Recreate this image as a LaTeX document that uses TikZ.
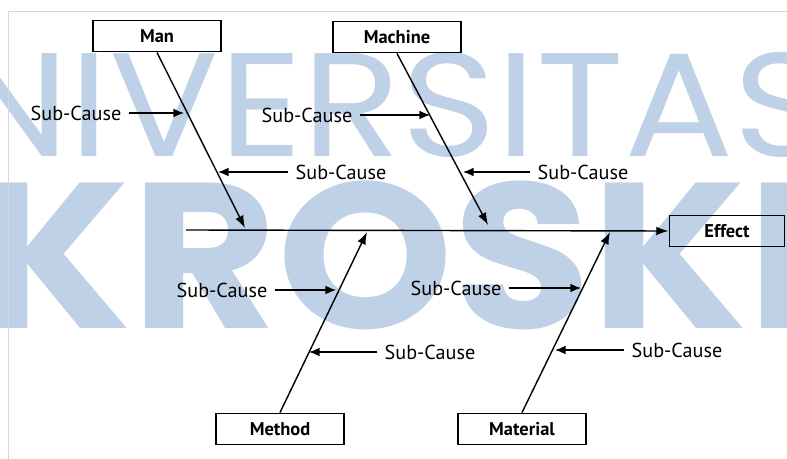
\documentclass[tikz,border=0pt]{standalone}
\usepackage{fontspec}
\setmainfont{PT Sans}
\newfontfamily\wmfont{Poppins}
\usepackage{tikz}
\usetikzlibrary{arrows.meta}

\definecolor{wmblue}{RGB}{191,209,230}
\definecolor{framegray}{RGB}{215,215,215}

\tikzset{
  catbox/.style={draw, line width=1.1pt, minimum width=2.56cm, minimum height=0.62cm, font=\bfseries\fontsize{10.5}{12}\selectfont},
  subcause/.style={font=\fontsize{11.5}{13}\selectfont, inner sep=4pt},
  bone/.style={line width=0.8pt, -{Latex[length=7pt,width=5pt]}},
  subarrow/.style={line width=0.8pt, -{Latex[length=6pt,width=5pt]}}
}

\begin{document}
\begin{tikzpicture}[x=0.02cm, y=-0.02cm]
        \useasboundingbox (0,0) rectangle (787,459);
        \begin{scope}
            \clip (0,0) rectangle (787,459);
            \node[anchor=base west, inner sep=0, xscale=1.1, text=wmblue, font=\wmfont\fontsize{84}{84}\selectfont] (wmtop) at (-45,157) {NIVERSITAS};
            \node[anchor=base west, inner sep=0, xscale=1.08, text=wmblue, font=\wmfont\bfseries\fontsize{118}{118}\selectfont] (wmbot) at (-25,328) {KROSKI};
        \end{scope}
        \draw[framegray, line width=0.5pt] (8,459) -- (8,11) -- (787,11);

        % categories
        \node[catbox] (man) at (157,36) {Man};
        \node[catbox] (machine) at (397,37) {Machine};
        \node[catbox] (method) at (280,429) {Method};
        \node[catbox] (material) at (522,429) {Material};
        \node[catbox, minimum width=2.3cm] (effect) at (727,231) {Effect};

        % spine
        \coordinate (spine) at (186,230);
        \draw[bone] (spine) -- (effect.west);

        % bones
        \coordinate (mantip) at (245,228);
        \coordinate (machinetip) at (488,225);
        \coordinate (methodtip) at (367,232);
        \coordinate (materialtip) at (610,232);
        \draw[bone] (man.south) -- (mantip);
        \draw[bone] (machine.south) -- (machinetip);
        \draw[bone] (method.north) -- (methodtip);
        \draw[bone] (material.north) -- (materialtip);

        % sub-causes
        \node[subcause] (man1) at (76,113) {Sub-Cause};
        \node[subcause] (man2) at (341,172) {Sub-Cause};
        \node[subcause] (machine1) at (307,115) {Sub-Cause};
        \node[subcause] (machine2) at (583,172) {Sub-Cause};
        \node[subcause] (method1) at (222,290) {Sub-Cause};
        \node[subcause] (method2) at (430,352) {Sub-Cause};
        \node[subcause] (material1) at (456,288) {Sub-Cause};
        \node[subcause] (material2) at (677,350) {Sub-Cause};

        \coordinate (m1) at (184,113);
        \coordinate (m2) at (218,172);
        \coordinate (c1) at (430,115);
        \coordinate (c2) at (463,172);
        \coordinate (t1) at (336,290);
        \coordinate (t2) at (309,352);
        \coordinate (l1) at (581,288);
        \coordinate (l2) at (555,350);

        \draw[subarrow] (man1) -- (m1);
        \draw[subarrow] (man2) -- (m2);
        \draw[subarrow] (machine1) -- (c1);
        \draw[subarrow] (machine2) -- (c2);
        \draw[subarrow] (method1) -- (t1);
        \draw[subarrow] (method2) -- (t2);
        \draw[subarrow] (material1) -- (l1);
        \draw[subarrow] (material2) -- (l2);
\end{tikzpicture}
\end{document}
